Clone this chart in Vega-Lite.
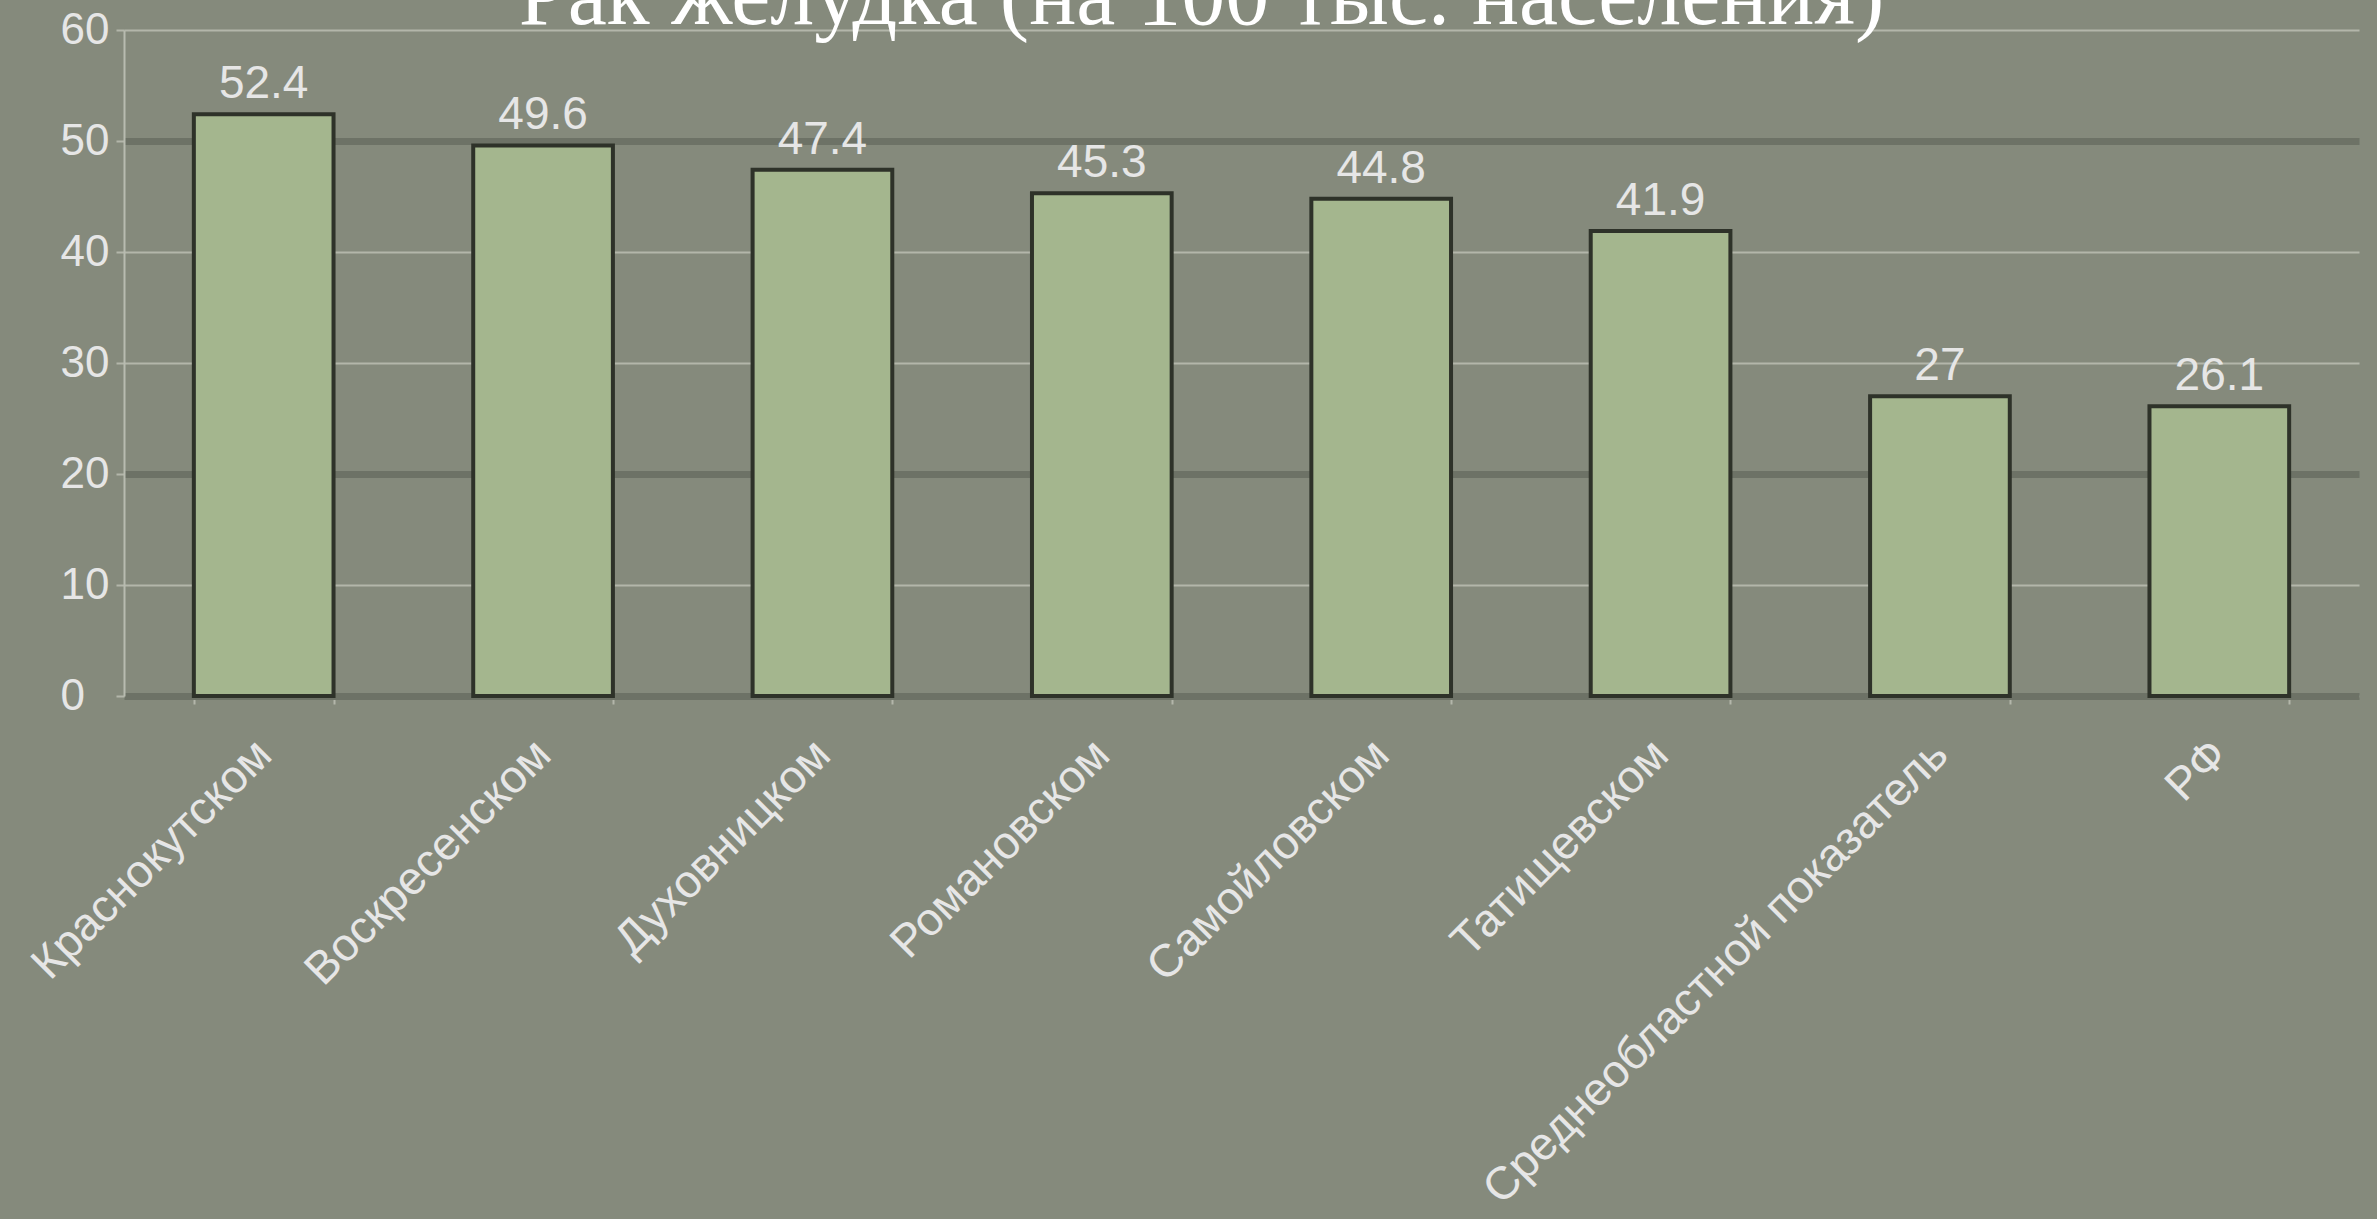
{
  "$schema": "https://vega.github.io/schema/vega-lite/v6.json",
  "autosize": "none",
  "width": 2235,
  "height": 666,
  "padding": {"left": 124, "top": 30, "right": 18, "bottom": 523},
  "background": "#858a7c",
  "config": {
    "view": {"stroke": null},
    "axis": {
      "labelFont": "Liberation Sans",
      "labelColor": "#e6e6e6",
      "labelFontSize": 44
    }
  },
  "layer": [
    {
      "data": {
        "values": [
          {"region": "Краснокутском", "value": 52.4},
          {"region": "Воскресенском", "value": 49.6},
          {"region": "Духовницком", "value": 47.4},
          {"region": "Романовском", "value": 45.3},
          {"region": "Самойловском", "value": 44.8},
          {"region": "Татищевском", "value": 41.9},
          {"region": "Среднеобластной показатель", "value": 27},
          {"region": "РФ", "value": 26.1}
        ]
      },
      "encoding": {
        "x": {
          "field": "region",
          "type": "nominal",
          "sort": null,
          "scale": {"paddingInner": 0.5, "paddingOuter": 0.25},
          "axis": {
            "title": null,
            "labelAngle": -45,
            "labelAlign": "right",
            "labelBaseline": "middle",
            "labelPadding": 43,
            "labelFontSize": 46,
            "labelLimit": 0,
            "tickBand": "extent",
            "ticks": true,
            "tickSize": 8,
            "tickColor": "#b3b6aa",
            "tickWidth": 2,
            "domain": true,
            "domainColor": "#6d7266",
            "domainWidth": 7,
            "grid": false
          }
        },
        "y": {
          "field": "value",
          "type": "quantitative",
          "scale": {"domain": [0, 60], "nice": false},
          "axis": {
            "title": null,
            "values": [0, 10, 20, 30, 40, 50, 60],
            "labelAlign": "left",
            "labelPadding": 56,
            "labelBaseline": "middle",
            "tickSize": 8,
            "tickColor": "#b3b6aa",
            "tickWidth": 2,
            "domainColor": "#b8bbb0",
            "domainWidth": 2,
            "grid": true,
            "gridColor": {"expr": "datum.value == 20 || datum.value == 50 ? '#6d7266' : '#b3b6aa'"},
            "gridWidth": {"expr": "datum.value == 20 || datum.value == 50 ? 7 : 2"}
          }
        }
      },
      "layer": [
        {
          "mark": {"type": "bar", "fill": "#a4b68e", "stroke": "#2e3229", "strokeWidth": 4}
        },
        {
          "mark": {
            "type": "text",
            "baseline": "bottom",
            "dy": -6,
            "font": "Liberation Sans",
            "fontSize": 46,
            "fill": "#e6e6e6"
          },
          "encoding": {"text": {"field": "value", "type": "quantitative"}}
        }
      ]
    },
    {
      "data": {"values": [{"title": "Рак желудка (на 100 тыс. населения)"}]},
      "mark": {
        "type": "text",
        "x": {"expr": "width / 2 - 40"},
        "y": -6,
        "align": "center",
        "baseline": "alphabetic",
        "font": "Liberation Serif",
        "fontSize": 88,
        "fill": "#ffffff"
      },
      "encoding": {"text": {"field": "title", "type": "nominal"}}
    }
  ]
}
